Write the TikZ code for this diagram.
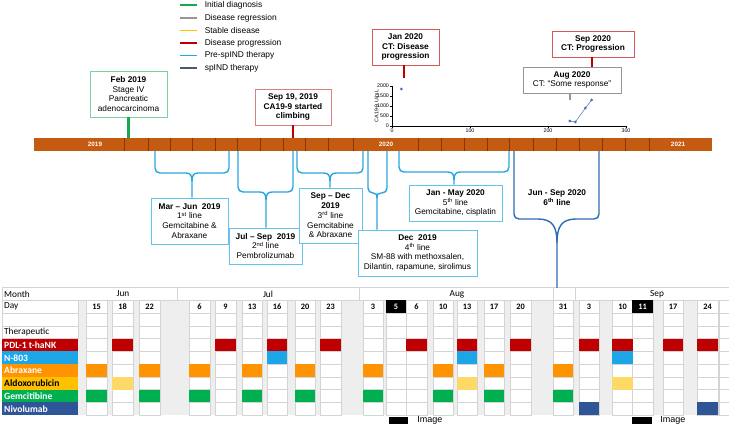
\documentclass[tikz,border=0pt]{standalone}
\usepackage{fontspec}
\setmainfont{Liberation Sans}
\newfontfamily\tabfont{Carlito}
\usetikzlibrary{calc, positioning, arrows.meta}

\definecolor{barbrown}{RGB}{197,90,17}
\definecolor{tickbrown}{RGB}{130,55,10}
\definecolor{dxgreen}{RGB}{20,170,80}
\definecolor{regray}{RGB}{150,150,150}
\definecolor{stabyellow}{RGB}{255,192,0}
\definecolor{progred}{RGB}{192,0,0}
\definecolor{prespind}{RGB}{41,165,225}
\definecolor{spind}{RGB}{47,108,180}
\definecolor{spindleg}{RGB}{70,90,115}
\definecolor{boxblue}{RGB}{100,195,235}
\definecolor{pdlred}{RGB}{192,0,0}
\definecolor{nblue}{RGB}{28,166,232}
\definecolor{abxorange}{RGB}{255,148,0}
\definecolor{aldogold}{RGB}{255,192,0}
\definecolor{aldolight}{RGB}{255,217,102}
\definecolor{gemgreen}{RGB}{0,176,80}
\definecolor{nivoblue}{RGB}{47,85,151}
\definecolor{gapgray}{RGB}{238,238,238}
\definecolor{gridgray}{RGB}{212,212,212}
\definecolor{dotblue}{RGB}{70,110,180}

% brace from the bar down to a box
\newcommand{\tlbrace}[7]{%
  \draw[#6] (#1,151) -- (#1,#4-5) .. controls (#1,#4-2) and (#1+2,#4) .. (#1+5,#4)
    -- ({#3-0.8*#7},#4) .. controls ({#3-0.2*#7},#4) and (#3,{#4+0.3*#7}) .. (#3,#4+#7) -- (#5 -| #3,0);
  \draw[#6] (#2,151) -- (#2,#4-5) .. controls (#2,#4-2) and (#2-2,#4) .. (#2-5,#4)
    -- ({#3+0.8*#7},#4) .. controls ({#3+0.2*#7},#4) and (#3,{#4+0.3*#7}) .. (#3,#4+#7);
}
% one dose cell in the table
\newcommand{\dose}[3]{\fill[#1] ({#2-10.2},{287.6+12.75*#3}) rectangle ({#2+10.2},{287.6+12.75*(#3+1)});}
\def\daycols{96.5,122.5,149.5,199.5,225.5,252,277,305,330.5,373,396,416.5,443,467,494,520.5,563,589,622.5,642.5,673,707.5}

\begin{document}
\begin{tikzpicture}[x=1pt, y=-1pt,
  evbox/.style={draw=#1, fill=white, line width=0.7pt, align=center, inner sep=1pt, font=\fontsize{8.3}{9.8}\selectfont},
  thbox/.style={draw=boxblue, fill=white, line width=0.7pt, align=center, inner sep=1pt, font=\fontsize{8.3}{9.8}\selectfont},
  marker/.style={line width=2.6pt},
  prebrace/.style={draw=prespind, line width=1.4pt},
  postbrace/.style={draw=spind, line width=1.4pt},
  legline/.style={line width=1.6pt},
  legtxt/.style={anchor=west, inner sep=0pt, xshift=7pt, text=black, font=\fontsize{8.4}{10}\selectfont},
  bartxt/.style={text=white, inner sep=0pt, font=\bfseries\fontsize{6.3}{7}\selectfont},
  barsep/.style={draw=tickbrown, line width=0.5pt},
  ticklbl/.style={inner sep=0.6pt, font=\fontsize{5.3}{6}\selectfont},
  cell/.style={fill=white, draw=gridgray, line width=0.4pt},
  lbltxt/.style={anchor=west, inner sep=0pt, font=\tabfont\fontsize{9.3}{10}\selectfont},
  drugtxt/.style={anchor=west, inner sep=0pt, font=\tabfont\bfseries\fontsize{9.6}{10}\selectfont},
  daytxt/.style={inner sep=0pt, font=\tabfont\bfseries\fontsize{8.3}{9}\selectfont},
]
\useasboundingbox (0,0) rectangle (729,427);

% legend %
\foreach \c/\t [count=\i] in {dxgreen/Initial diagnosis,regray/Disease regression,stabyellow/Stable disease,progred/Disease progression,prespind/Pre-spIND therapy,spindleg/spIND therapy}
  \draw[legline, \c] (180,{5.3+12.6*(\i-1)}) -- ++(17,0) node[legtxt] (leg\i) {\t};

% timeline bar %
\node[fill=barbrown, minimum width=678, minimum height=13, inner sep=0pt, anchor=north west] (bar) at (34,138) {};
\foreach \x in {124,148,170,192,215,237,260,283,305,328,353,418,441,464,487,509,533,556,579,602,625,649}
  \draw[barsep] (\x,138) -- (\x,151);
\node[bartxt] (y2019) at (95,144.5) {2019};
\node[bartxt] (y2020) at (386,144.5) {2020};
\node[bartxt] (y2021) at (678,144.5) {2021};

% events %
\node[evbox=dxgreen!55, minimum width=77, minimum height=46] (febbox) at (128.5,94) {\textbf{Feb 2019}\\Stage IV\\Pancreatic\\adenocarcinoma};
\node[evbox=progred!50, minimum width=76, minimum height=36] (sepbox) at (293,107) {\textbf{Sep 19, 2019}\\\textbf{CA19-9 started}\\\textbf{climbing}};
\node[evbox=progred!65, minimum width=67, minimum height=36] (janbox) at (405.5,47) {\textbf{Jan 2020}\\\textbf{CT: Disease}\\\textbf{progression}};
\node[evbox=progred!65, minimum width=82, minimum height=26] (sep20box) at (593,44) {\textbf{Sep 2020}\\\textbf{CT: Progression}};
\node[evbox=regray, minimum width=98, minimum height=26] (augbox) at (572,80) {\textbf{Aug 2020}\\CT: “Some response”};
\coordinate (janstub) at (404,78);
\coordinate (sepstub) at (592,67);
\coordinate (augstub) at (570,100);
\draw[marker, dxgreen] (febbox.south) -- (febbox.south |- bar.north);
\draw[marker, progred] (sepbox.south) -- (sepbox.south |- bar.north);
\draw[marker, progred] (janbox.south -| janstub) -- (janstub);
\draw[marker, progred] (sep20box.south -| sepstub) -- (sepstub);
\draw[marker, regray, line width=2.2pt] (augbox.south -| augstub) -- (augstub);

% CA19-9 inset %
\begin{scope}[xshift=392pt, yshift=-126pt, x=0.78pt, y=0.02pt]
  \draw[line width=0.4pt] (0,2000) -- (0,0) -- (300,0);
  \foreach \v in {0,500,...,2000}
    \draw[line width=0.3pt] (0,\v) -- (-3,\v) node[left, ticklbl] (yl\v) {\v};
  \foreach \v in {10,20,...,290}
    \draw[line width=0.3pt] (\v,0) -- (\v,-60);
  \foreach \v in {0,100,200,300}
    \draw[line width=0.3pt] (\v,0) -- (\v,-110) node[below, ticklbl] (xl\v) {\v};
  \node[rotate=90, ticklbl] (ylab) at (-20,1000) {CA19-9 U/mL};
  \draw[dotblue, line width=0.5pt] (228,250) -- (235,200) -- (248,900) -- (256,1300);
  \foreach \px/\py in {12/1850,228/250,235/200,248/900,256/1300}
    \fill[dotblue] (\px,\py) circle[radius=1.5pt];
\end{scope}

% table %
\fill[gapgray] (78,300.35) rectangle (729,415.1);
\draw[gridgray, line width=0.4pt] (2,287.6) -- (729,287.6) (2,300.35) -- (729,300.35) (2,287.6) -- (2,415.1);
\foreach \x in {177,359,553,575}
  \draw[gridgray, line width=0.4pt] (\x,287.6) -- (\x,300.35);
\foreach \k in {1,2,3}
  \draw[cell] (2,{287.6+12.75*\k}) rectangle (78,{287.6+12.75*(\k+1)});
\foreach \cx in \daycols {
  \foreach \k in {1,...,9}
    \draw[cell] ({\cx-10.2},{287.6+12.75*\k}) rectangle ({\cx+10.2},{287.6+12.75*(\k+1)});
}
\foreach \k in {1,...,9}
  \draw[cell] (719,{287.6+12.75*\k}) rectangle (731,{287.6+12.75*(\k+1)});
\fill[black] (385.8,300.35) rectangle (406.2,313.1);
\fill[black] (632.3,300.35) rectangle (652.7,313.1);

\node[lbltxt] (lmonth) at (4,293.98) {Month};
\node[lbltxt] (lday) at (4,306.73) {Day};
\node[lbltxt] (lther) at (4,332.23) {Therapeutic};
\foreach \mx/\m in {123/Jun,268/Jul,457/Aug,657/Sep}
  \node[lbltxt, anchor=center] (m\m) at (\mx,293.98) {\m};
\foreach \cx/\d [count=\i] in {96.5/15,122.5/18,149.5/22,199.5/6,225.5/9,252/13,277/16,305/20,330.5/23,373/3,416.5/6,443/10,467/13,494/17,520.5/20,563/31,589/3,622.5/10,673/17,707.5/24}
  \node[daytxt] (day\i) at (\cx,306.73) {\d};
\node[daytxt, text=white] (dayaug5) at (396,306.73) {5};
\node[daytxt, text=white] (daysep11) at (642.5,306.73) {11};

\foreach \k/\c/\tc/\t in {4/pdlred/white/PDL-1 t-haNK,5/nblue/white/N-803,6/abxorange/white/Abraxane,7/aldogold/black/Aldoxorubicin,8/gemgreen/white/Gemcitibine,9/nivoblue/white/Nivolumab} {
  \fill[\c] (2,{287.6+12.75*\k}) rectangle (78,{287.6+12.75*(\k+1)});
  \node[drugtxt, text=\tc] (drug\k) at (4,{293.98+12.75*\k}) {\t};
}

% doses %
\foreach \cx in {122.5,225.5,277,330.5,416.5,467,520.5,589,622.5,673,707.5} {\dose{pdlred}{\cx}{4}}
\foreach \cx in {277,467,622.5} {\dose{nblue}{\cx}{5}}
\foreach \cx in {96.5,149.5,199.5,252,305,373,443,494,563} {\dose{abxorange}{\cx}{6}}
\foreach \cx in {122.5,467,622.5} {\dose{aldolight}{\cx}{7}}
\foreach \cx in {96.5,149.5,199.5,252,305,373,443,494,563} {\dose{gemgreen}{\cx}{8}}
\foreach \cx in {589,707.5} {\dose{nivoblue}{\cx}{9}}

\node[fill=black, minimum width=19, minimum height=7, inner sep=0pt] (img1) at (398.5,420.5) {};
\node[right=9pt of img1, inner sep=0pt, font=\fontsize{9}{10}\selectfont] (img1t) {Image};
\node[fill=black, minimum width=20, minimum height=7, inner sep=0pt] (img2) at (642,420.5) {};
\node[right=8pt of img2, inner sep=0pt, font=\fontsize{9}{10}\selectfont] (img2t) {Image};

% therapy lines %
\node[thbox, minimum width=77, minimum height=46] (b1) at (189.5,221) {\textbf{Mar – Jun\ \ 2019}\\1\textsuperscript{st} line\\Gemcitabine \&\\Abraxane};
\node[thbox, minimum width=73, minimum height=36] (b2) at (265.5,246) {\textbf{Jul – Sep\ \ 2019}\\2\textsuperscript{nd} line\\Pembrolizumab};
\node[thbox, minimum width=63, minimum height=55] (b3) at (330.5,215.5) {\textbf{Sep – Dec}\\\textbf{2019}\\3\textsuperscript{rd} line\\Gemcitabine\\\& Abraxane};
\node[thbox, minimum width=119, minimum height=46] (b4) at (417.5,253) {\textbf{Dec\ \ 2019}\\4\textsuperscript{th} line\\SM-88 with methoxsalen,\\Dilantin, rapamune, sirolimus};
\node[thbox, minimum width=93, minimum height=36] (b5) at (455.5,203) {\textbf{Jan - May 2020}\\5\textsuperscript{th} line\\Gemcitabine, cisplatin};
\node[align=center, inner sep=0pt, font=\bfseries\fontsize{8.3}{9.8}\selectfont] (sixth) at (557,198) {Jun - Sep 2020\\6\textsuperscript{th} line};
\coordinate (sixend) at (557,288);

\tlbrace{155}{229}{192}{173}{b1.north}{prebrace}{8}
\tlbrace{238}{293}{266}{192}{b2.north}{prebrace}{8}
\tlbrace{297}{363}{330}{173}{b3.north}{prebrace}{8}
\tlbrace{368}{387}{377}{193}{b4.north}{prebrace}{5}
\tlbrace{399}{509}{454}{172}{b5.north}{prebrace}{8}
\tlbrace{514}{599}{557}{219}{sixend}{postbrace}{24}
\end{tikzpicture}
\end{document}
